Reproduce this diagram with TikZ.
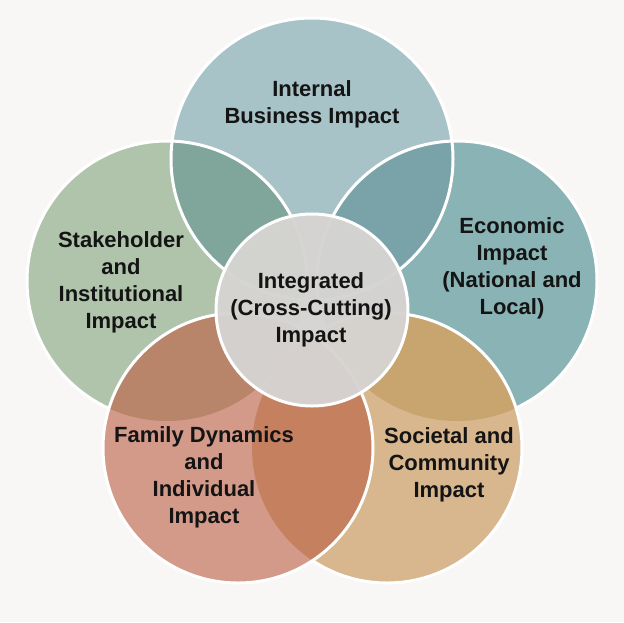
\documentclass[tikz,border=0pt]{standalone}
\usepackage{fontspec}
\newfontfamily\lblfont{Liberation Sans}
\definecolor{bgc}{HTML}{F8F7F5}
\definecolor{topc}{HTML}{A8C3C8}
\definecolor{leftc}{HTML}{B0C4AC}
\definecolor{rightc}{HTML}{8AB3B5}
\definecolor{famc}{HTML}{D39A8A}
\definecolor{socc}{HTML}{D9B78E}
\definecolor{tlc}{HTML}{80A69C}
\definecolor{trc}{HTML}{7AA2A9}
\definecolor{lfc}{HTML}{B8856B}
\definecolor{rsc}{HTML}{C8A56F}
\definecolor{fsc}{HTML}{C58060}
\definecolor{cenc}{HTML}{D6D4D2}
\definecolor{txtc}{HTML}{141414}
\tikzset{
  edge/.style={draw=white, line width=3pt},
  lbl/.style={text=txtc, align=center, font=\lblfont\bfseries\fontsize{22}{27}\selectfont, inner sep=0pt}
}
\begin{document}
\begin{tikzpicture}[x=1pt,y=-1pt]
\fill[bgc] (0,0) rectangle (624,622);
\useasboundingbox (0,0) rectangle (624,622);
\coordinate (T) at (312,159);
\coordinate (L) at (167,281);
\coordinate (R) at (457,281);
\coordinate (F) at (238,448);
\coordinate (S) at (387,448);
\coordinate (C) at (312,310);
% upper three circles
\fill[topc] (T) circle (141pt);
\fill[leftc] (L) circle (140pt);
\fill[rightc] (R) circle (140pt);
\begin{scope}\clip (T) circle (141pt); \fill[tlc] (L) circle (140pt);\end{scope}
\begin{scope}\clip (T) circle (141pt); \fill[trc] (R) circle (140pt);\end{scope}
\draw[edge] (T) circle (141pt);
\draw[edge] (L) circle (140pt);
\draw[edge] (R) circle (140pt);
% societal
\fill[socc] (S) circle (135pt);
\begin{scope}\clip (S) circle (135pt); \fill[rsc] (R) circle (140pt);\end{scope}
\draw[edge] (S) circle (135pt);
% family
\fill[famc] (F) circle (135pt);
\begin{scope}\clip (F) circle (135pt); \fill[lfc] (L) circle (140pt);\end{scope}
\begin{scope}\clip (F) circle (135pt); \fill[fsc] (S) circle (135pt);\end{scope}
\draw[edge] (F) circle (135pt);
% center
\fill[cenc, fill opacity=0.96] (C) circle (96pt);
\draw[edge] (C) circle (96pt);
% labels
\node[lbl] (tlbl) at (312,104) {Internal\\Business Impact};
\node[lbl] (llbl) at (121,282) {Stakeholder\\and\\Institutional\\Impact};
\node[lbl] (rlbl) at (512,268) {Economic\\Impact\\(National and\\Local)};
\node[lbl] (clbl) at (311,310) {Integrated\\(Cross-Cutting)\\Impact};
\node[lbl] (flbl) at (204,477) {Family Dynamics\\and\\Individual\\Impact};
\node[lbl] (slbl) at (449,465) {Societal and\\Community\\Impact};
\end{tikzpicture}
\end{document}
